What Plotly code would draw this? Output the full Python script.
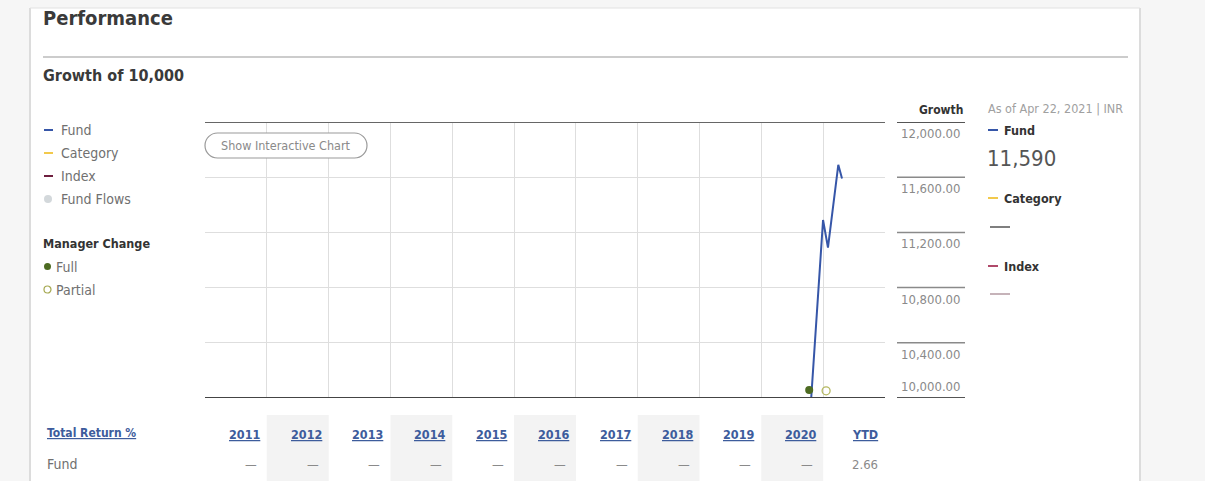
import plotly.graph_objects as go

W, H = 1205, 481

# ---- data -------------------------------------------------------------
fund_dates = ["2020-10-22", "2020-12-31", "2021-01-29", "2021-03-31", "2021-04-22"]
fund_values = [10000, 11290, 11090, 11690, 11590]

full_change_dates = ["2020-10-10"]
full_change_values = [10058]
partial_change_dates = ["2021-01-18"]
partial_change_values = [10052]

growth_ticks = [10000, 10400, 10800, 11200, 11600, 12000]
growth_tick_labels = ["10,000.00", "10,400.00", "10,800.00", "11,200.00", "11,600.00", "12,000.00"]

table_years = [2011, 2012, 2013, 2014, 2015, 2016, 2017, 2018, 2019, 2020, 2021]
table_headers = ["2011", "2012", "2013", "2014", "2015", "2016", "2017", "2018", "2019", "2020", "YTD"]
fund_returns = [None, None, None, None, None, None, None, None, None, None, 2.66]

latest_growth = "11,590"
as_of_text = "As of Apr 22, 2021 | INR"

# ---- styling ----------------------------------------------------------
FONT = "Liberation Sans Narrow, DejaVu Sans Condensed, Arial Narrow, sans-serif"
FUND_BLUE = "#3656a8"
CAT_YELLOW = "#f2c94c"
INDEX_RED = "#6e1f3f"
GREEN = "#4d6b22"
TEXT_GRAY = "#707070"
DARK = "#333333"
LINK_BLUE = "#3d5c9c"


def px(x):
    return x / W


def py(y):
    return 1 - y / H


shapes = []
annotations = []


def hline(x0, x1, y, color, width):
    shapes.append(dict(type="line", xref="paper", yref="paper",
                       x0=px(x0), x1=px(x1), y0=py(y), y1=py(y),
                       line=dict(color=color, width=width)))


def text(x, y, s, size=14, color=TEXT_GRAY, xanchor="left", yanchor="middle", **kw):
    shift = -2 if xanchor == "left" else (2 if xanchor == "right" else 0)
    annotations.append(dict(x=px(x), y=py(y), xref="paper", yref="paper",
                            text=s, showarrow=False, xanchor=xanchor, yanchor=yanchor,
                            xshift=shift,
                            font=dict(family=FONT, size=size, color=color), **kw))


fig = go.Figure()

# Fund growth line
fig.add_trace(go.Scatter(x=fund_dates, y=fund_values, mode="lines",
                         line=dict(color=FUND_BLUE, width=2), hoverinfo="skip",
                         showlegend=False))
# Manager change markers
fig.add_trace(go.Scatter(x=full_change_dates, y=full_change_values, mode="markers",
                         marker=dict(symbol="circle", size=8, color=GREEN),
                         cliponaxis=False, showlegend=False, hoverinfo="skip"))
fig.add_trace(go.Scatter(x=partial_change_dates, y=partial_change_values, mode="markers",
                         marker=dict(symbol="circle-open", size=8, color="#b5b860",
                                     line=dict(width=1.3)),
                         cliponaxis=False, showlegend=False, hoverinfo="skip"))

# ---- page frame -------------------------------------------------------
shapes.append(dict(type="rect", xref="paper", yref="paper", layer="below",
                   x0=0, x1=px(29), y0=0, y1=1, fillcolor="#f6f6f6", line_width=0))
shapes.append(dict(type="rect", xref="paper", yref="paper", layer="below",
                   x0=px(1140), x1=1, y0=0, y1=1, fillcolor="#f6f6f6", line_width=0))
shapes.append(dict(type="rect", xref="paper", yref="paper", layer="below",
                   x0=0, x1=1, y0=py(8), y1=1, fillcolor="#f6f6f6", line_width=0))
shapes.append(dict(type="line", xref="paper", yref="paper", x0=px(30), x1=px(30),
                   y0=0, y1=py(8), line=dict(color="#dcdcdc", width=2)))
shapes.append(dict(type="line", xref="paper", yref="paper", x0=px(1140), x1=px(1140),
                   y0=0, y1=py(8), line=dict(color="#dcdcdc", width=2)))
hline(30, 1140, 8, "#e2e2e2", 1)

# headings
text(43, 18, "<b>Performance</b>", size=20, color="#3a3a3a")
hline(43, 1128, 57, "#9a9a9a", 1.2)
text(43, 75, "<b>Growth of 10,000</b>", size=16, color="#3a3a3a")

# ---- left legend --------------------------------------------------------
legend_rows = [("Fund", 130, FUND_BLUE), ("Category", 153, CAT_YELLOW),
               ("Index", 176, INDEX_RED)]
for label, y, c in legend_rows:
    hline(44, 53, y, c, 2)
    text(61, y, label, size=14)
shapes.append(dict(type="circle", xref="paper", yref="paper",
                   x0=px(44), x1=px(52), y0=py(203), y1=py(195),
                   fillcolor="#d3d8db", line_width=0))
text(61, 199, "Fund Flows", size=14)
text(43, 243, "<b>Manager Change</b>", size=12.5, color=DARK)
shapes.append(dict(type="circle", xref="paper", yref="paper",
                   x0=px(44), x1=px(51), y0=py(270), y1=py(263),
                   fillcolor=GREEN, line_width=0))
text(56, 267, "Full", size=14)
shapes.append(dict(type="circle", xref="paper", yref="paper",
                   x0=px(44), x1=px(51), y0=py(293), y1=py(286),
                   fillcolor="white", line=dict(color="#a5a850", width=1.2)))
text(56, 290, "Partial", size=14)

# ---- interactive chart pill ---------------------------------------------
x0, x1, t, b = 205, 367, 133, 158
r = (b - t) / 2
k = 0.5523 * r
pts = (f"M {px(x0 + r)},{py(t)} L {px(x1 - r)},{py(t)} "
       f"C {px(x1 - r + k)},{py(t)} {px(x1)},{py(t + r - k)} {px(x1)},{py(t + r)} "
       f"C {px(x1)},{py(t + r + k)} {px(x1 - r + k)},{py(b)} {px(x1 - r)},{py(b)} "
       f"L {px(x0 + r)},{py(b)} "
       f"C {px(x0 + r - k)},{py(b)} {px(x0)},{py(b - r + k)} {px(x0)},{py(b - r)} "
       f"C {px(x0)},{py(t + r - k)} {px(x0 + r - k)},{py(t)} {px(x0 + r)},{py(t)} Z")
shapes.append(dict(type="path", xref="paper", yref="paper", path=pts,
                   fillcolor="white", line=dict(color="#9a9a9a", width=1.2)))
text((x0 + x1) / 2, (t + b) / 2, "Show Interactive Chart", size=12.5, color="#8a8a8a",
     xanchor="center")

# ---- chart frame lines --------------------------------------------------
shapes.append(dict(type="line", xref="paper", yref="y", x0=px(205), x1=px(885),
                   y0=12000, y1=12000, line=dict(color="#666666", width=2)))
shapes.append(dict(type="line", xref="paper", yref="y", x0=px(205), x1=px(885),
                   y0=10000, y1=10000, line=dict(color="#444444", width=2)))

# right-hand growth scale
text(963, 110, "<b>Growth</b>", size=12, color=DARK, xanchor="right")
for v, lab in zip(growth_ticks, growth_tick_labels):
    edge = v in (growth_ticks[0], growth_ticks[-1])
    shapes.append(dict(type="line", xref="paper", yref="y", x0=px(897), x1=px(965),
                       y0=v, y1=v,
                       line=dict(color="#555555" if edge else "#8a8a8a",
                                 width=2 if edge else 1.5)))
    annotations.append(dict(x=px(962), y=v, xref="paper", yref="y", text=lab,
                            showarrow=False, xanchor="right", xshift=1,
                            yanchor="bottom" if v == growth_ticks[0] else "top",
                            yshift=2 if v == growth_ticks[0] else -2,
                            font=dict(family=FONT, size=13, color="#8a8a8a")))

# ---- right legend --------------------------------------------------------
text(988, 108, as_of_text, size=12.5, color="#a0a0a0")
hline(988, 998, 130, FUND_BLUE, 2)
text(1004, 130, "<b>Fund</b>", size=12.5, color=DARK)
text(987, 158, latest_growth, size=22, color="#555555")
hline(988, 998, 198, CAT_YELLOW, 2)
text(1004, 198, "<b>Category</b>", size=12.5, color=DARK)
hline(990, 1010, 227, "#555555", 1.5)
hline(988, 998, 266, "#b04a6a", 2)
text(1004, 266, "<b>Index</b>", size=12.5, color=DARK)
hline(990, 1010, 294, "#b39aa2", 1.5)

# ---- total return table -------------------------------------------------
text(47, 433, "<b><u>Total Return %</u></b>", size=12, color=LINK_BLUE)
text(47, 464, "Fund", size=14)
for i, (yr, head, ret) in enumerate(zip(table_years, table_headers, fund_returns)):
    if i % 2 == 1:
        shapes.append(dict(type="rect", xref="x", yref="paper", layer="below",
                           x0=f"{yr}-01-01", x1=f"{yr + 1}-01-01",
                           y0=0, y1=py(415), fillcolor="#f3f3f3", line_width=0))
    annotations.append(dict(x=f"{yr + 1}-01-01", y=py(434), xref="x", yref="paper",
                            text=f"<b><u>{head}</u></b>", showarrow=False,
                            xanchor="right", yanchor="middle", xshift=-5,
                            font=dict(family=FONT, size=12.5, color=LINK_BLUE)))
    annotations.append(dict(x=f"{yr + 1}-01-01", y=py(464), xref="x", yref="paper",
                            text="—" if ret is None else f"{ret:.2f}", showarrow=False,
                            xanchor="right", yanchor="middle",
                            xshift=-8 if ret is None else -5,
                            font=dict(family=FONT, size=13, color="#8a8a8a")))

fig.update_layout(
    width=W, height=H, autosize=False,
    margin=dict(l=0, r=0, t=0, b=0, pad=0),
    paper_bgcolor="white", plot_bgcolor="rgba(0,0,0,0)",
    showlegend=False,
    shapes=shapes, annotations=annotations,
    xaxis=dict(type="date", range=["2011-01-01", "2022-01-01"],
               domain=[px(205), px(885)],
               tickvals=[f"{y}-01-01" for y in range(2012, 2022)],
               showticklabels=False, ticks="", showgrid=True,
               gridcolor="#dedede", gridwidth=1, zeroline=False, showline=False,
               fixedrange=True),
    yaxis=dict(range=[10000, 12000], domain=[py(398), py(122)],
               tickvals=growth_ticks[1:-1], showticklabels=False, ticks="",
               showgrid=True, gridcolor="#dedede", gridwidth=1,
               zeroline=False, showline=False, fixedrange=True),
)

fig.write_html("out.html", config={"displayModeBar": False})
